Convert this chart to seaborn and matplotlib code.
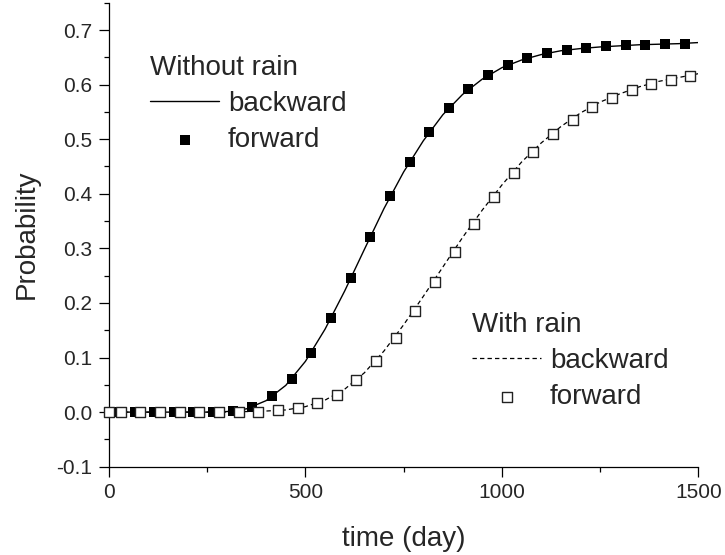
import numpy as np
import pandas as pd
import matplotlib
matplotlib.use("Agg")
import matplotlib.pyplot as plt
import seaborn as sns
from matplotlib.ticker import MultipleLocator, FormatStrFormatter

# without rain: forward (filled squares) and backward (solid line)
dry_fwd_day = [15, 65, 115, 165, 215, 265, 315, 365, 415, 465, 515, 565, 615, 665, 715,
               765, 815, 865, 915, 965, 1015, 1065, 1115, 1165, 1215, 1265, 1315, 1365, 1415, 1465]
dry_fwd_prob = [0.0, 0.0, 0.0, 0.0, 0.0, 0.0, 0.002, 0.010, 0.029, 0.060, 0.109, 0.172, 0.245,
                0.321, 0.395, 0.459, 0.514, 0.558, 0.592, 0.618, 0.636, 0.648, 0.658, 0.664,
                0.667, 0.670, 0.672, 0.673, 0.674, 0.675]
dry_bwd_day = [0, 50, 100, 150, 200, 250, 300, 350, 400, 450, 500, 550, 600, 650, 700, 750,
               800, 850, 900, 950, 1000, 1050, 1100, 1150, 1200, 1250, 1300, 1350, 1400, 1450, 1500]
dry_bwd_prob = [0.0, 0.0, 0.0, 0.0, 0.0, 0.0, 0.001, 0.006, 0.021, 0.049, 0.093, 0.152, 0.222,
                0.298, 0.373, 0.440, 0.497, 0.545, 0.582, 0.610, 0.631, 0.645, 0.655, 0.662,
                0.666, 0.669, 0.671, 0.673, 0.674, 0.675, 0.677]

# with rain: forward (open squares) and backward (dashed line)
wet_fwd_day = [0, 30, 80, 130, 180, 230, 280, 330, 380, 430, 480, 530, 580, 630, 680, 730,
               780, 830, 880, 930, 980, 1030, 1080, 1130, 1180, 1230, 1280, 1330, 1380, 1430, 1480]
wet_fwd_prob = [0.0, 0.0, 0.0, 0.0, 0.0, 0.0, 0.0, 0.001, 0.001, 0.003, 0.007, 0.016, 0.032,
                0.058, 0.093, 0.136, 0.186, 0.238, 0.293, 0.345, 0.394, 0.438, 0.476, 0.509,
                0.536, 0.559, 0.576, 0.590, 0.601, 0.609, 0.615]
wet_bwd_day = [0, 50, 100, 150, 200, 250, 300, 350, 400, 450, 500, 550, 600, 650, 700, 750,
               800, 850, 900, 950, 1000, 1050, 1100, 1150, 1200, 1250, 1300, 1350, 1400, 1450, 1500]
wet_bwd_prob = [0.0, 0.0, 0.0, 0.0, 0.0, 0.0, 0.0, 0.001, 0.002, 0.004, 0.010, 0.022, 0.042,
                0.072, 0.112, 0.160, 0.212, 0.266, 0.320, 0.370, 0.416, 0.458, 0.493, 0.523,
                0.548, 0.568, 0.583, 0.596, 0.606, 0.613, 0.620]

dry_fwd = pd.DataFrame({"day": dry_fwd_day, "prob": dry_fwd_prob})
dry_bwd = pd.DataFrame({"day": dry_bwd_day, "prob": dry_bwd_prob})
wet_fwd = pd.DataFrame({"day": wet_fwd_day, "prob": wet_fwd_prob})
wet_bwd = pd.DataFrame({"day": wet_bwd_day, "prob": wet_bwd_prob})

sns.set_style("ticks")
plt.rcParams["font.family"] = ["Liberation Sans", "DejaVu Sans"]
plt.rcParams["axes.unicode_minus"] = False

fig = plt.figure(figsize=(7.25, 5.55), dpi=100)
ax = fig.add_axes([0.1503, 0.1591, 0.8129, 0.836])

sns.lineplot(data=dry_bwd, x="day", y="prob", color="black", lw=1.0, estimator=None, ax=ax)
sns.lineplot(data=wet_bwd, x="day", y="prob", color="black", lw=0.9, estimator=None,
             linestyle=(0, (3.5, 2.5)), ax=ax)
sns.scatterplot(data=dry_fwd, x="day", y="prob", marker="s", s=58, color="black",
                edgecolor="black", linewidth=0, clip_on=False, zorder=3, ax=ax)
sns.scatterplot(data=wet_fwd, x="day", y="prob", marker="s", s=44, facecolor="white",
                edgecolor="#222222", linewidth=1.0, clip_on=False, zorder=4, ax=ax)

h_dry_line = ax.lines[0]
h_wet_line = ax.lines[1]
h_dry_pts = ax.collections[0]
h_wet_pts = ax.collections[1]

ax.set_xlim(0, 1500)
ax.set_ylim(-0.1, 0.75)
ax.xaxis.set_major_locator(MultipleLocator(500))
ax.xaxis.set_minor_locator(MultipleLocator(250))
ax.yaxis.set_major_locator(MultipleLocator(0.1))
ax.yaxis.set_minor_locator(MultipleLocator(0.05))
ax.yaxis.set_major_formatter(FormatStrFormatter("%.1f"))
ax.tick_params(which="major", length=7, width=0.9, labelsize=15, pad=5, color="black")
ax.tick_params(which="minor", length=3.5, width=0.9, color="black")
for s in ["left", "bottom"]:
    ax.spines[s].set_linewidth(0.9)
    ax.spines[s].set_color("black")
sns.despine(ax=ax)

ax.set_xlabel("time (day)", fontsize=20, labelpad=17)
ax.set_ylabel("Probability", fontsize=20, labelpad=12)

leg_kw = dict(loc="upper left", bbox_transform=fig.transFigure, frameon=False, fontsize=20,
              title_fontsize=20, alignment="left", handlelength=2.5, handletextpad=0.3,
              labelspacing=0.36, borderpad=0, borderaxespad=0)
leg1 = ax.legend([h_dry_line, h_dry_pts], ["backward", "forward"], title="Without rain",
                 bbox_to_anchor=(150 / 725, 1 - 55 / 555), **leg_kw)
ax.add_artist(leg1)
ax.legend([h_wet_line, h_wet_pts], ["backward", "forward"], title="With rain",
          bbox_to_anchor=(472 / 725, 1 - 312 / 555), **leg_kw)

fig.savefig("out.png", dpi=100)
